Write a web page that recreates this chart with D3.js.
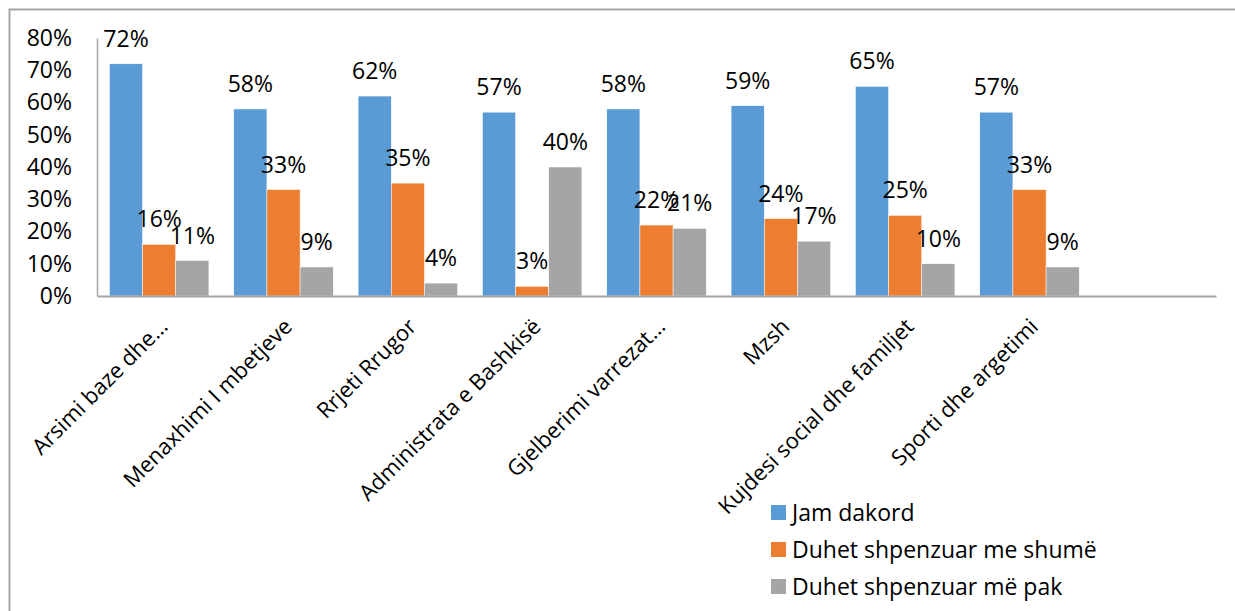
<!DOCTYPE html>
<html>
<head>
<meta charset="utf-8">
<script src="https://cdn.jsdelivr.net/npm/d3@7"></script>
<style>
  body { margin: 0; background: #fff; }
  text { font-family: "Open Sans", sans-serif; fill: #000; }
</style>
</head>
<body>
<div id="chart"></div>
<script>
// Data
var categories = ["Arsimi baze dhe…", "Menaxhimi I mbetjeve", "Rrjeti Rrugor", "Administrata e Bashkisë",
    "Gjelberimi varrezat…", "Mzsh", "Kujdesi social dhe familjet", "Sporti dhe argetimi", ""];
var seriesNames = ["Jam dakord", "Duhet shpenzuar me shumë", "Duhet shpenzuar më pak"];
var jamDakord = [0.72, 0.58, 0.62, 0.57, 0.58, 0.59, 0.65, 0.57];
var meShume = [0.16, 0.33, 0.35, 0.03, 0.22, 0.24, 0.25, 0.33];
var mePak = [0.11, 0.09, 0.04, 0.40, 0.21, 0.17, 0.10, 0.09];
var yTicks = [0, 0.1, 0.2, 0.3, 0.4, 0.5, 0.6, 0.7, 0.8];
var colors = ["#5B9BD5", "#ED7D31", "#A5A5A5"];

var svgWidth = 1235;
var svgHeight = 611;

var margin = { top: 38, right: 19, bottom: 315, left: 97 };
var width = svgWidth - margin.left - margin.right;
var height = svgHeight - margin.top - margin.bottom;

var svg = d3.select("#chart")
    .append("svg")
    .attr("width", svgWidth)
    .attr("height", svgHeight);

// chart frame
svg.append("rect")
    .attr("x", 9.5)
    .attr("y", 9.5)
    .attr("width", 1400)
    .attr("height", 800)
    .attr("fill", "none")
    .attr("stroke", "#a6a6a6")
    .attr("stroke-width", 2);

var chartGroup = svg.append("g")
    .attr("transform", `translate(${margin.left}, ${margin.top})`);

// scales
var x0 = d3.scaleBand()
    .domain(categories)
    .range([0, width])
    .paddingInner(0.2)
    .paddingOuter(0.1);

var x1 = d3.scaleBand()
    .domain([0, 1, 2])
    .range([0, x0.bandwidth()]);

var yScale = d3.scaleLinear()
    .domain([0, 0.8])
    .range([height, 0]);

var fmt = d3.format(".0%");

// y axis labels
var leftAxis = d3.axisLeft(yScale).tickValues(yTicks).tickFormat(fmt).tickSize(0).tickPadding(25);
var yAxisG = chartGroup.append("g").call(leftAxis);
yAxisG.select(".domain").attr("stroke", "#a6a6a6").attr("stroke-width", 1.5);
yAxisG.selectAll("text").attr("font-size", "23px").attr("font-family", "Open Sans");

// bars
var rows = categories.slice(0, 8).map(function(c, i) {
    return { cat: c, vals: [jamDakord[i], meShume[i], mePak[i]] };
});

var groups = chartGroup.selectAll(".grp")
    .data(rows)
    .enter()
    .append("g")
    .attr("class", "grp")
    .attr("transform", d => `translate(${x0(d.cat)}, 0)`);

groups.selectAll("rect")
    .data(d => d.vals)
    .enter()
    .append("rect")
    .attr("x", (d, i) => x1(i))
    .attr("y", d => yScale(d))
    .attr("width", x1.bandwidth())
    .attr("height", d => height - yScale(d))
    .attr("fill", (d, i) => colors[i])
    .attr("stroke", "#fff")
    .attr("stroke-width", 0.5);

// data labels
groups.selectAll("text")
    .data(d => d.vals)
    .enter()
    .append("text")
    .attr("x", (d, i) => x1(i) + x1.bandwidth() / 2)
    .attr("y", d => yScale(d) - 17)
    .attr("text-anchor", "middle")
    .attr("font-size", "23px")
    .text(d => fmt(d));

// x axis
var bottomAxis = d3.axisBottom(x0).tickSize(0).tickPadding(0);
var xAxisG = chartGroup.append("g")
    .attr("transform", `translate(0, ${height})`)
    .call(bottomAxis);
xAxisG.select(".domain").attr("stroke", "#a6a6a6").attr("stroke-width", 2);
xAxisG.selectAll("text")
    .attr("font-size", "22px")
    .attr("font-family", "Open Sans")
    .attr("text-anchor", "end")
    .attr("dy", 0)
    .attr("transform", "translate(10, 32) rotate(-45)");

// legend
var legend = svg.append("g")
    .attr("transform", "translate(771, 505)");

var items = legend.selectAll("g")
    .data(seriesNames)
    .enter()
    .append("g")
    .attr("transform", (d, i) => `translate(0, ${i * 37})`);

items.append("rect")
    .attr("width", 15)
    .attr("height", 15)
    .attr("fill", (d, i) => colors[i]);

items.append("text")
    .attr("x", 21)
    .attr("y", 7.5)
    .attr("dy", "0.35em")
    .attr("font-size", "23px")
    .text(d => d);
</script>
</body>
</html>
